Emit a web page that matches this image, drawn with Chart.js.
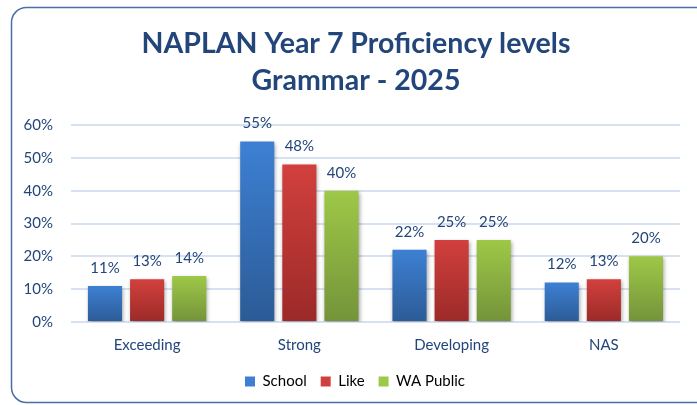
<!DOCTYPE html>
<html>
<head>
<meta charset="utf-8">
<script src="https://cdn.jsdelivr.net/npm/chart.js@4.4.1/dist/chart.umd.min.js"></script>
<style>
  html, body { margin: 0; padding: 0; background: #fff; }
  #wrap { width: 697px; height: 405px; position: relative; }
</style>
</head>
<body>
<div id="wrap"><canvas id="barchart"></canvas></div>
<script>
const categories = ['Exceeding', 'Strong', 'Developing', 'NAS'];
const seriesNames = ['School', 'Like', 'WA Public'];
const school = [11, 55, 22, 12];
const like = [13, 48, 25, 13];
const waPublic = [14, 40, 25, 20];
const yTicks = [0, 10, 20, 30, 40, 50, 60];

const textColor = '#23467a';
const FONT = 'Lato, "Open Sans", sans-serif';

// top / bottom colour of each series gradient
const shades = [
  ['#3d80d3', '#2c5b96'], // School
  ['#d2403d', '#9b2a28'], // Like
  ['#9ec847', '#74933a']  // WA Public
];

function barFill(i) {
  return function (c) {
    const chart = c.chart;
    const y = chart.scales.y;
    if (!chart.chartArea || !y || c.type !== 'data') return shades[i][0];
    const top = y.getPixelForValue(c.raw);
    const bottom = y.getPixelForValue(0);
    const g = chart.ctx.createLinearGradient(0, top, 0, bottom);
    g.addColorStop(0, shades[i][0]);
    g.addColorStop(1, shades[i][1]);
    return g;
  };
}

// rounded frame round the whole chart
const framePlugin = {
  id: 'frame',
  afterUpdate(chart) {
    // title and legend sit a little right of centre in the original
    chart.legend.left += 8;
    chart.legend.right += 8;
    chart.titleBlock.left += 9;
    chart.titleBlock.right += 9;
  },
  beforeDraw(chart) {
    const ctx = chart.ctx;
    ctx.save();
    ctx.fillStyle = '#fff';
    ctx.fillRect(0, 0, chart.width, chart.height);
    ctx.beginPath();
    ctx.roundRect(11.5, 7.5, 700, 395, 15);
    ctx.strokeStyle = '#4a6fa5';
    ctx.lineWidth = 1.5;
    ctx.stroke();
    ctx.restore();
  }
};

// soft drop shadow under the bars
const shadowPlugin = {
  id: 'barShadow',
  beforeDatasetsDraw(chart) {
    const ctx = chart.ctx;
    ctx.save();
    ctx.shadowColor = 'rgba(0,0,0,0.35)';
    ctx.shadowBlur = 4;
    ctx.shadowOffsetX = 1;
    ctx.shadowOffsetY = 2;
  },
  afterDatasetsDraw(chart) {
    chart.ctx.restore();
  }
};

// value labels above each bar
const valueLabels = {
  id: 'valueLabels',
  afterDatasetsDraw(chart) {
    const ctx = chart.ctx;
    ctx.save();
    ctx.font = '15px ' + FONT;
    ctx.fillStyle = textColor;
    ctx.textAlign = 'center';
    ctx.textBaseline = 'middle';
    chart.data.datasets.forEach((ds, i) => {
      chart.getDatasetMeta(i).data.forEach((bar, j) => {
        ctx.fillText(ds.data[j] + '%', bar.x, bar.y - 18);
      });
    });
    ctx.restore();
  }
};

const ctx = document.getElementById('barchart');
new Chart(ctx, {
  type: 'bar',
  data: {
    labels: categories,
    datasets: [
      { label: seriesNames[0], data: school, backgroundColor: barFill(0) },
      { label: seriesNames[1], data: like, backgroundColor: barFill(1) },
      { label: seriesNames[2], data: waPublic, backgroundColor: barFill(2) }
    ]
  },
  options: {
    responsive: true,
    maintainAspectRatio: false,
    animation: false,
    categoryPercentage: 0.83,
    barPercentage: 0.81,
    layout: { padding: { left: 14, right: 17, top: 0, bottom: 6 } },
    plugins: {
      title: {
        display: true,
        text: ['NAPLAN Year 7 Proficiency levels', 'Grammar - 2025'],
        color: textColor,
        font: { family: FONT, size: 28.5, weight: 'bold', lineHeight: 1.3 },
        padding: { top: 25, bottom: 26 }
      },
      legend: {
        position: 'bottom',
        labels: {
          color: textColor,
          font: { family: FONT, size: 15 },
          boxWidth: 10,
          boxHeight: 10,
          padding: 14,
          generateLabels(chart) {
            return chart.data.datasets.map((ds, i) => ({
              text: ds.label,
              fillStyle: shades[i][0],
              strokeStyle: shades[i][1],
              lineWidth: 0,
              datasetIndex: i
            }));
          }
        }
      },
      tooltip: { enabled: false }
    },
    scales: {
      x: {
        grid: { display: false },
        border: { display: false },
        ticks: { color: textColor, font: { family: FONT, size: 15 }, padding: 6 }
      },
      y: {
        min: 0,
        max: 60,
        afterFit(scale) { scale.width = 57; },
        afterBuildTicks(scale) { scale.ticks = yTicks.map(v => ({ value: v })); },
        grid: { color: '#d6e2f2', lineWidth: 2, drawTicks: false },
        border: { display: false },
        ticks: {
          color: textColor,
          font: { family: FONT, size: 15 },
          padding: 18,
          callback: v => v + '%'
        }
      }
    }
  },
  plugins: [framePlugin, shadowPlugin, valueLabels]
});
</script>
</body>
</html>
